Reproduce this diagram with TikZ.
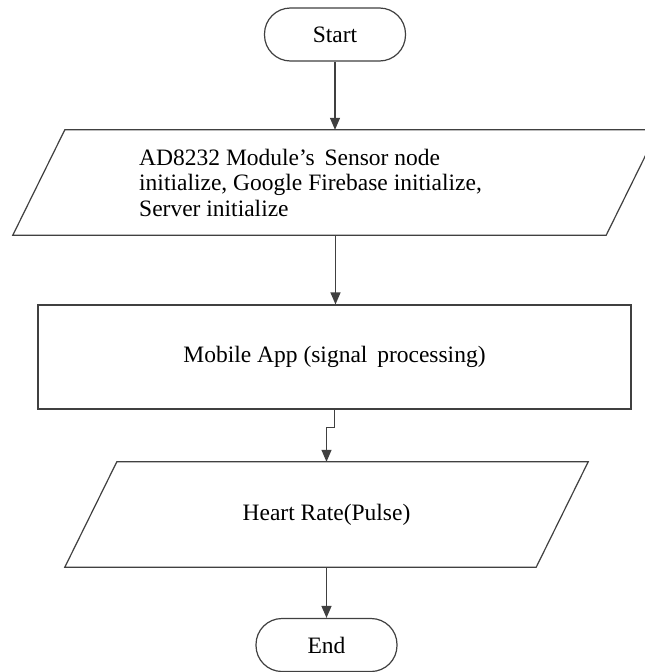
\documentclass[tikz,border=0pt]{standalone}
\usepackage{fontspec}
\setmainfont{Liberation Serif}
\usetikzlibrary{arrows.meta}
\begin{document}
\begin{tikzpicture}[x=1pt,y=-1pt,
  line/.style={draw=black!75,line width=1.2pt},
  arr/.style={line,-{Triangle[length=12pt,width=10pt]}},
  term/.style={line,rounded corners=26pt,minimum width=141pt,minimum height=53pt,inner sep=0pt,font=\fontsize{23.5}{25}\selectfont},
  procbox/.style={line,minimum width=593pt,minimum height=104pt,inner sep=0pt,font=\fontsize{23.5}{25}\selectfont},
  ioarea/.style={minimum height=105pt,inner sep=0pt},
  txt/.style={inner sep=0pt,font=\fontsize{23.5}{25.5}\selectfont}
]
\useasboundingbox (0,0) rectangle (645,672);
\clip (0,0) rectangle (645,672);
\fill[white] (0,0) rectangle (645,672);

% Start
\node[term] (start) at (335,34.5) {Start};

% Input 1
\node[ioarea,minimum width=593pt] (p1) at (335.5,182.5) {};
\draw[line] ([xshift=26pt]p1.north west) -- ([xshift=26pt]p1.north east)
  -- ([xshift=-26pt]p1.south east) -- ([xshift=-26pt]p1.south west) -- cycle;
\node[txt,anchor=west,align=left] (p1t) at (139,182.5)
  {AD8232 Module’s\, Sensor node\\initialize, Google Firebase initialize,\\Server initialize};

% Process
\node[procbox] (proc) at (334.5,357) {Mobile App (signal\, processing)};

% Input 2
\node[ioarea,minimum width=471pt] (p2) at (326.5,514.5) {};
\draw[line] ([xshift=26pt]p2.north west) -- ([xshift=26pt]p2.north east)
  -- ([xshift=-26pt]p2.south east) -- ([xshift=-26pt]p2.south west) -- cycle;
\node[txt] (p2t) at (326.5,515) {Heart Rate(Pulse)};

% End
\node[term] (end) at (326.5,645) {End};

% connectors
\draw[arr] (start.south) -- (start.south |- p1.north);
\draw[arr] (p1.south) -- (p1.south |- proc.north);
\draw[arr] (proc.south) -- ([yshift=-18pt]proc.south) -| (p2.north);
\draw[arr] (p2.south) -- (end.north);
\end{tikzpicture}
\end{document}
